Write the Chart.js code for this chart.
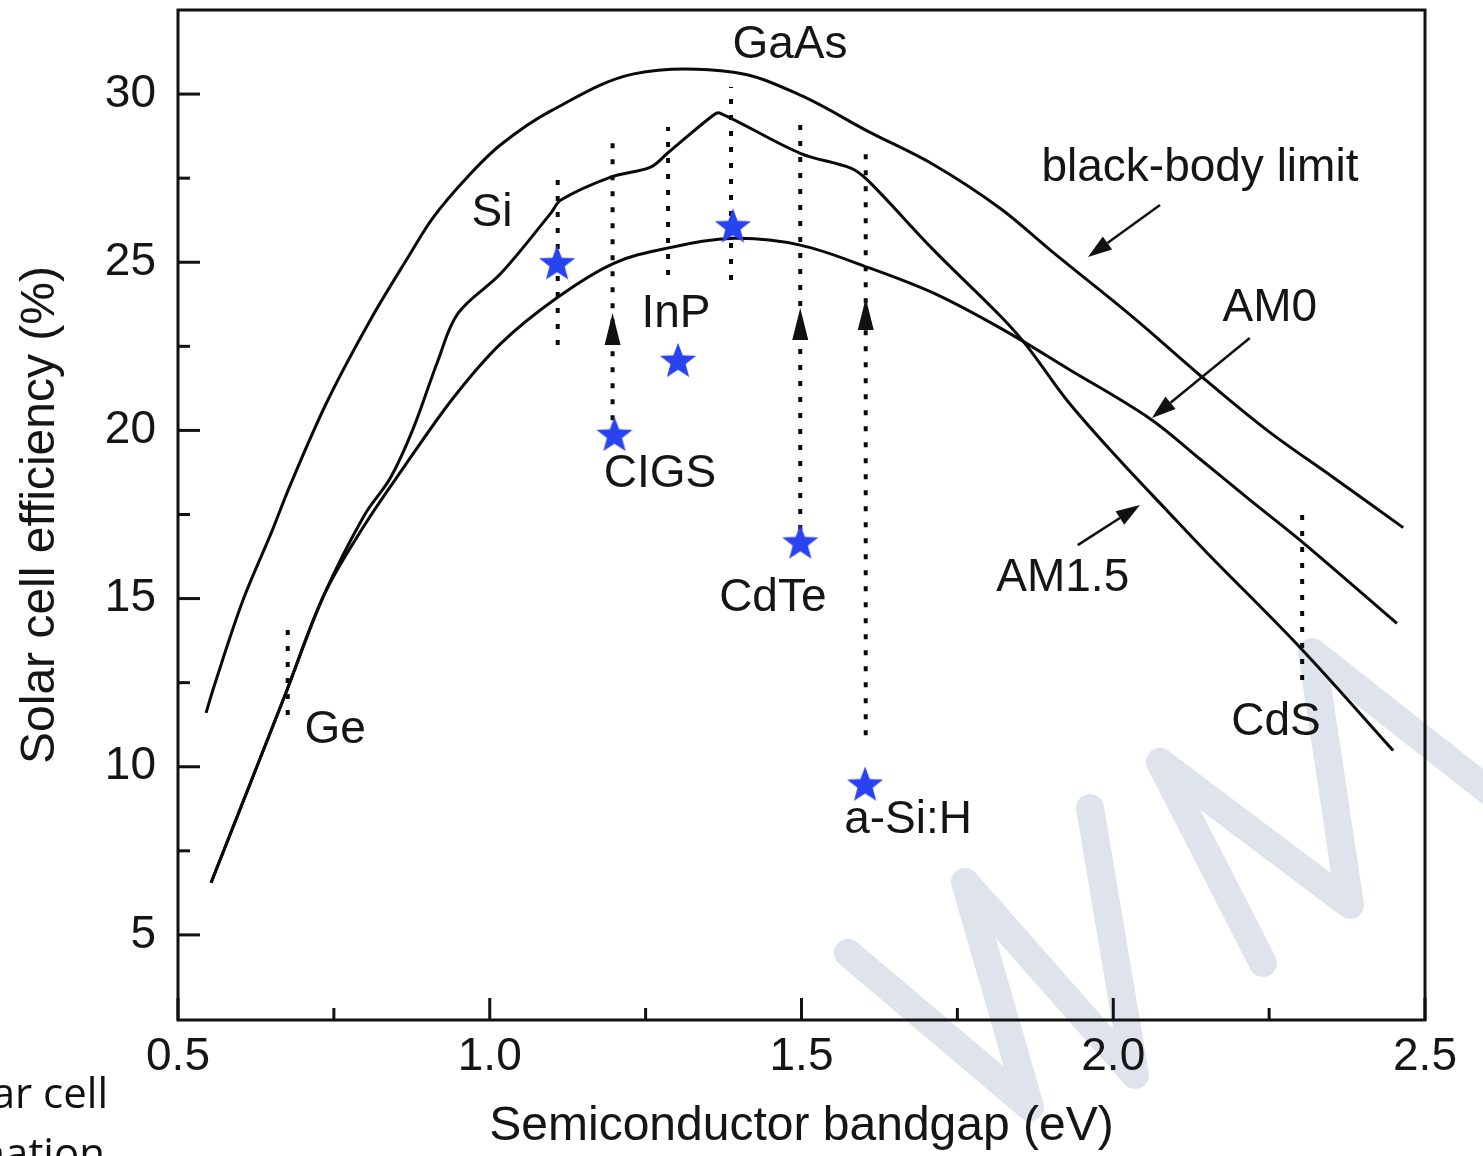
<!DOCTYPE html>
<html>
<head>
<meta charset="utf-8">
<script src="https://cdn.jsdelivr.net/npm/chart.js@4.4.1/dist/chart.umd.min.js"></script>
<style>
 html, body { margin: 0; padding: 0; background: #fff; }
 #wrap { width: 1483px; height: 1156px; position: relative; overflow: hidden; }
</style>
</head>
<body>
<div id="wrap"><canvas id="sq-chart" width="1483" height="1156"></canvas></div>
<script>
// Shockley-Queisser style limits, efficiency (%) vs bandgap (eV)
const bbGap = [0.545, 0.558, 0.604, 0.649, 0.681, 0.74, 0.809, 0.869, 0.91, 0.965, 1.018, 1.098, 1.231, 1.391, 1.498, 1.606, 1.712, 1.819, 1.899, 2.032, 2.139, 2.247, 2.353, 2.465];
const bbEff = [11.6, 12.4, 14.94, 16.93, 18.42, 20.89, 23.3, 25.15, 26.35, 27.55, 28.5, 29.5, 30.6, 30.65, 29.97, 28.9, 27.9, 26.6, 25.36, 23.36, 21.64, 20.0, 18.6, 17.11];

const am0Gap = [0.553, 0.67, 0.734, 0.798, 0.862, 0.942, 1.018, 1.109, 1.199, 1.285, 1.391, 1.498, 1.606, 1.712, 1.819, 1.926, 2.059, 2.139, 2.22, 2.30, 2.455];
const am0Eff = [6.55, 12.05, 15.1, 17.15, 18.9, 20.98, 22.59, 23.96, 24.97, 25.42, 25.71, 25.51, 24.85, 24.08, 23.04, 21.85, 20.35, 19.15, 17.92, 16.73, 14.26];

const am15Gap = [0.553, 0.67, 0.734, 0.798, 0.841, 0.878, 0.917, 0.949, 1.018, 1.098, 1.114, 1.194, 1.258, 1.285, 1.359, 1.37, 1.498, 1.579, 1.606, 1.712, 1.819, 1.862, 1.926, 2.006, 2.087, 2.151, 2.30, 2.449];
const am15Eff = [6.55, 12.05, 15.1, 17.45, 18.6, 20.09, 22.08, 23.48, 24.67, 26.46, 26.85, 27.53, 27.83, 28.24, 29.38, 29.43, 28.24, 27.8, 27.44, 25.36, 23.4, 22.5, 20.89, 19.2, 17.6, 16.35, 13.54, 10.48];

// record cells (stars)
const cellNames = ["Si", "CIGS", "InP", "GaAs", "CdTe", "a-Si:H"];
const cellGap = [1.108, 1.2, 1.302, 1.39, 1.498, 1.602];
const cellEff = [25.0, 19.9, 22.1, 26.1, 16.7, 9.5];

// dotted bandgap markers
const markGap = [0.676, 1.109, 1.197, 1.286, 1.387, 1.498, 1.603, 2.303];
const markLow = [11.54, 22.54, 20.3, 24.62, 24.47, 17.04, 10.94, 12.58];
const markHigh = [14.13, 27.68, 28.57, 29.02, 30.21, 29.29, 28.48, 17.78];
// arrowheads on the dotted markers (CIGS, CdTe, a-Si:H)
const headGap = [1.197, 1.498, 1.603];
const headTip = [23.49, 23.64, 23.94];

const xTitle = "Semiconductor bandgap (eV)";
const yTitle = "Solar cell efficiency (%)";

// text labels placed in data space
const notes = [
 ["GaAs", 1.4816, 31.46], ["Si", 1.0036, 26.46], ["InP", 1.2987, 23.46],
 ["CIGS", 1.273, 18.70], ["CdTe", 1.454, 15.02], ["a-Si:H", 1.671, 8.42],
 ["Ge", 0.752, 11.09], ["CdS", 2.261, 11.33], ["black-body limit", 2.139, 27.80],
 ["AM0", 2.251, 23.64], ["AM1.5", 1.919, 15.61]
];
// pointer arrows [fromX, fromY, toX, toY]
const pointers = [
 [2.075, 26.70, 1.9595, 25.155],
 [2.219, 22.75, 2.062, 20.37],
 [1.943, 16.59, 2.043, 17.78]
];

const FONT = "'Liberation Sans', Arial, Helvetica, sans-serif";
Chart.defaults.font.family = FONT;
Chart.defaults.color = "#151515";

function makeStar(size, color) {
 const c = document.createElement("canvas");
 c.width = size; c.height = size;
 const g = c.getContext("2d");
 const R = size / 2, r = R * 0.42, cx = size / 2, cy = size / 2 + size * 0.05;
 g.beginPath();
 for (let i = 0; i < 10; i++) {
  const rad = i % 2 === 0 ? R : r;
  const a = -Math.PI / 2 + i * Math.PI / 5;
  g.lineTo(cx + rad * Math.cos(a), cy + rad * Math.sin(a));
 }
 g.closePath();
 g.fillStyle = color;
 g.fill();
 return c;
}
const starImg = makeStar(38, "#2a43f0");

const toPts = (xs, ys) => xs.map((x, i) => ({ x: x, y: ys[i] }));

const datasets = [
 {
  label: "cells",
  data: toPts(cellGap, cellEff),
  showLine: false,
  pointStyle: starImg,
  pointRadius: 19,
 },
];
[[bbGap, bbEff, "black-body limit"], [am0Gap, am0Eff, "AM0"], [am15Gap, am15Eff, "AM1.5"]].forEach(([xs, ys, name]) => {
 datasets.push({
  label: name,
  data: toPts(xs, ys),
  showLine: true,
  borderColor: "#0a0a0a",
  borderWidth: 3,
  tension: 0.35,
  pointRadius: 0,
 });
});
markGap.forEach((g, i) => {
 datasets.push({
  label: "marker" + i,
  data: [{ x: g, y: markLow[i] }, { x: g, y: markHigh[i] }],
  showLine: true,
  borderColor: "#0a0a0a",
  borderWidth: 4,
  borderDash: [5, 11],
  borderCapStyle: "butt",
  pointRadius: 0,
 });
});

// faint watermark behind the plot
const watermark = {
 id: "watermark",
 beforeDraw(chart) {
  const ctx = chart.ctx;
  ctx.save();
  ctx.strokeStyle = "#dfe4ec";
  ctx.lineWidth = 28;
  ctx.lineCap = "round";
  ctx.lineJoin = "round";
  [
   [[848, 953], [1030, 1107], [965, 882], [1135, 1075], [1090, 808]],
   [[1263, 963], [1160, 762], [1350, 905], [1312, 652], [1500, 800]]
  ].forEach((path) => {
   ctx.beginPath();
   path.forEach(([px, py], i) => (i ? ctx.lineTo(px, py) : ctx.moveTo(px, py)));
   ctx.stroke();
  });
  ctx.restore();
 },
};

// box frame with inward major/minor ticks
const frameTicks = {
 id: "frameTicks",
 afterDraw(chart) {
  const { ctx, chartArea: a, scales: { x, y } } = chart;
  ctx.save();
  ctx.strokeStyle = "#111";
  ctx.lineWidth = 3;
  ctx.strokeRect(a.left, a.top, a.right - a.left, a.bottom - a.top);
  const seg = (x1, y1, x2, y2) => { ctx.beginPath(); ctx.moveTo(x1, y1); ctx.lineTo(x2, y2); ctx.stroke(); };
  const xt = x.ticks.map((t) => t.value);
  xt.forEach((v, i) => {
   const px = x.getPixelForValue(v);
   seg(px, a.bottom, px, a.bottom - 22);
   if (i < xt.length - 1) {
    const mx = x.getPixelForValue((v + xt[i + 1]) / 2);
    seg(mx, a.bottom, mx, a.bottom - 12);
   }
  });
  const yt = y.ticks.map((t) => t.value);
  yt.forEach((v, i) => {
   const py = y.getPixelForValue(v);
   seg(a.left, py, a.left + 22, py);
   if (i < yt.length - 1) {
    const my = y.getPixelForValue((v + yt[i + 1]) / 2);
    seg(a.left, my, a.left + 12, my);
   }
  });
  ctx.restore();
 },
};

// labels, pointer arrows and arrowheads
const annotations = {
 id: "annotations",
 afterDatasetsDraw(chart) {
  const { ctx, scales: { x, y } } = chart;
  ctx.save();
  ctx.fillStyle = "#151515";
  ctx.font = "46px " + FONT;
  ctx.textAlign = "center";
  ctx.textBaseline = "middle";
  notes.forEach(([t, vx, vy]) => ctx.fillText(t, x.getPixelForValue(vx), y.getPixelForValue(vy)));

  ctx.strokeStyle = "#111";
  ctx.fillStyle = "#111";
  ctx.lineWidth = 2.5;
  pointers.forEach(([x1, y1, x2, y2]) => {
   const ax = x.getPixelForValue(x1), ay = y.getPixelForValue(y1);
   const bx = x.getPixelForValue(x2), by = y.getPixelForValue(y2);
   const ang = Math.atan2(by - ay, bx - ax);
   const L = 24, W = 8;
   const hx = bx - L * Math.cos(ang), hy = by - L * Math.sin(ang);
   ctx.beginPath(); ctx.moveTo(ax, ay); ctx.lineTo(hx, hy); ctx.stroke();
   ctx.beginPath();
   ctx.moveTo(bx, by);
   ctx.lineTo(hx + W * Math.sin(ang), hy - W * Math.cos(ang));
   ctx.lineTo(hx - W * Math.sin(ang), hy + W * Math.cos(ang));
   ctx.closePath(); ctx.fill();
  });

  headGap.forEach((g, i) => {
   const px = x.getPixelForValue(g), py = y.getPixelForValue(headTip[i]);
   ctx.beginPath();
   ctx.moveTo(px, py);
   ctx.lineTo(px + 8, py + 32);
   ctx.lineTo(px - 8, py + 32);
   ctx.closePath(); ctx.fill();
  });

  ctx.restore();
 },
 afterDraw(chart) {
  // caption fragments cut off at the page edge
  const ctx = chart.ctx;
  ctx.save();
  ctx.fillStyle = "#111";
  ctx.font = "42px 'Open Sans', " + FONT;
  ctx.textAlign = "right";
  ctx.textBaseline = "alphabetic";
  ctx.fillText("ar cell", 108, 1108);
  ctx.fillText("nation", 105, 1168);
  ctx.restore();
 },
};

const config = {
 type: "scatter",
 data: { datasets: datasets },
 options: {
  responsive: false,
  animation: false,
  layout: { autoPadding: false, padding: { top: 10, right: 58, left: 0, bottom: 0 } },
  plugins: {
   legend: { display: false },
   tooltip: { enabled: false },
  },
  scales: {
   x: {
    type: "linear",
    min: 0.5,
    max: 2.5,
    grid: { display: false, drawTicks: false },
    border: { display: false },
    ticks: {
     stepSize: 0.5,
     padding: 10,
     font: { size: 46 },
     color: "#151515",
     callback: (v) => v.toFixed(1),
    },
    title: { display: true, text: xTitle, font: { size: 48 }, color: "#151515", padding: { top: 0, bottom: 0 } },
    afterFit: (s) => { s.height = 136; s.paddingLeft = 0; s.paddingRight = 0; },
   },
   y: {
    type: "linear",
    min: 2.47,
    max: 32.5,
    grid: { display: false, drawTicks: false },
    border: { display: false },
    ticks: {
     stepSize: 5,
     includeBounds: false,
     padding: 22,
     font: { size: 46 },
     color: "#151515",
    },
    title: { display: true, text: yTitle, font: { size: 48 }, color: "#151515", padding: { top: 12, bottom: 0 } },
    afterFit: (s) => { s.width = 178; s.paddingTop = 0; s.paddingBottom = 0; },
   },
  },
 },
 plugins: [watermark, frameTicks, annotations],
};

const sqChart = new Chart(document.getElementById("sq-chart"), config);
</script>
</body>
</html>
